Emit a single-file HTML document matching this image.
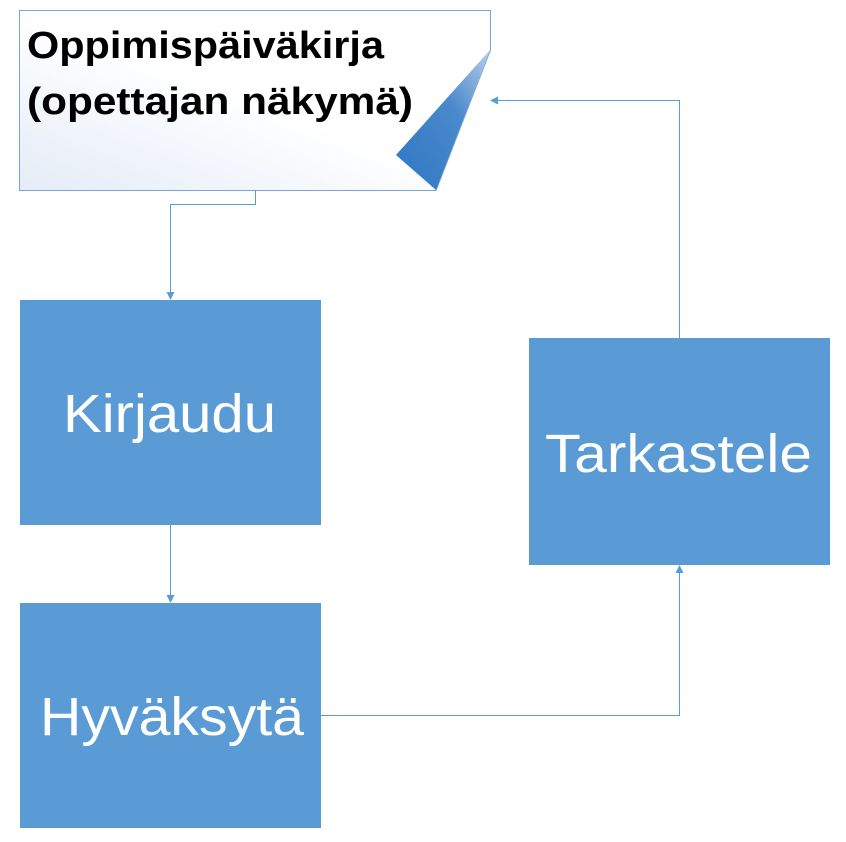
<!DOCTYPE html>
<html><head><style>
body{margin:0;background:#fff;width:846px;height:837px;overflow:hidden}
</style></head><body>
<svg width="846" height="837" viewBox="0 0 846 837" xmlns="http://www.w3.org/2000/svg">
<defs>
<linearGradient id="g" x1="0" y1="1" x2="1" y2="0">
<stop offset="0" stop-color="#e4ecf7"/><stop offset="0.5" stop-color="#ffffff"/><stop offset="1" stop-color="#ffffff"/>
</linearGradient>
<linearGradient id="f" x1="1" y1="0" x2="0" y2="1">
<stop offset="0" stop-color="#b7cfea"/><stop offset="0.4" stop-color="#4a89cc"/><stop offset="1" stop-color="#2f77c4"/>
</linearGradient>
<marker id="a" markerWidth="8" markerHeight="8" refX="7" refY="4" orient="auto" markerUnits="userSpaceOnUse">
<path d="M0,0 L8,4 L0,8 z" fill="#5b9bd5"/>
</marker>
</defs>
<path d="M19.5,10.5 L490.5,10.5 L490.5,50 L436,190.5 L19.5,190.5 Z" fill="url(#g)" stroke="#7aa4d4" stroke-width="1"/>
<path d="M490,50 L396,155 L436,190 Z" fill="url(#f)"/>
<text x="27" y="58" font-family="Liberation Sans, sans-serif" font-weight="bold" font-size="38" fill="#000" textLength="357" lengthAdjust="spacingAndGlyphs">Oppimispäiväkirja</text>
<text x="27" y="114" font-family="Liberation Sans, sans-serif" font-weight="bold" font-size="38" fill="#000" textLength="386" lengthAdjust="spacingAndGlyphs">(opettajan näkymä)</text>
<g fill="none" stroke="#5b9bd5" stroke-width="1">
<polyline points="255.5,190 255.5,204.5 170.5,204.5 170.5,299" marker-end="url(#a)"/>
<polyline points="170.5,525 170.5,602" marker-end="url(#a)"/>
<polyline points="321,715.5 679.5,715.5 679.5,566" marker-end="url(#a)"/>
<polyline points="679.5,338 679.5,100.5 491,100.5" marker-end="url(#a)"/>
</g>
<rect x="20" y="300" width="301" height="225" fill="#5b9bd5"/>
<rect x="20" y="603" width="301" height="225" fill="#5b9bd5"/>
<rect x="529" y="338" width="301" height="227" fill="#5b9bd5"/>
<g font-family="Liberation Sans, sans-serif" font-size="54" fill="#fff">
<text x="63" y="432" textLength="213" lengthAdjust="spacingAndGlyphs">Kirjaudu</text>
<text x="40" y="735" textLength="264" lengthAdjust="spacingAndGlyphs">Hyväksytä</text>
<text x="545" y="472" textLength="267" lengthAdjust="spacingAndGlyphs">Tarkastele</text>
</g>
</svg>
</body></html>
